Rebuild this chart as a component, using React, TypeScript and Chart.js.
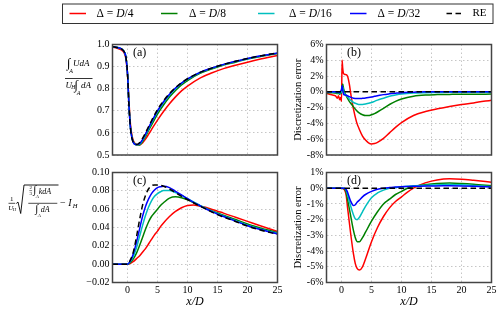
import React, { useEffect, useRef } from 'react';
import { Chart, registerables } from 'chart.js';

Chart.register(...registerables);

// ---------- data ----------
const seriesLabels = ['Δ = D/4', 'Δ = D/8', 'Δ = D/16', 'Δ = D/32', 'RE'];
const seriesColors = ['#ff0000', '#008000', '#00bfbf', '#0000ff', '#000000'];

const xTickValues = [0, 5, 10, 15, 20, 25];
const aYTicks = [0.5, 0.6, 0.7, 0.8, 0.9, 1.0];
const bYTicks = [-8, -6, -4, -2, 0, 2, 4, 6];
const cYTicks = [-0.02, 0, 0.02, 0.04, 0.06, 0.08, 0.1];
const dYTicks = [-6, -5, -4, -3, -2, -1, 0, 1];
const panelLetters = ['(a)', '(b)', '(c)', '(d)'];

// (a) normalised velocity deficit
const aX = [-2.5, -2, -1.5, -1, -0.5, -0.25, 0, 0.25, 0.5, 0.75, 1, 1.25, 1.5, 2, 2.5, 3, 3.5, 4, 5, 6, 7, 8, 9, 10, 12, 14, 16, 18, 20, 22, 25];
const aRed = [0.988, 0.985, 0.981, 0.975, 0.958, 0.932, 0.862, 0.74, 0.637, 0.588, 0.563, 0.552, 0.547, 0.545, 0.555, 0.572, 0.593, 0.615, 0.658, 0.697, 0.732, 0.763, 0.79, 0.812, 0.847, 0.871, 0.891, 0.906, 0.92, 0.933, 0.95];
const aGreen = [0.99, 0.988, 0.985, 0.98, 0.965, 0.94, 0.87, 0.725, 0.625, 0.58, 0.558, 0.55, 0.547, 0.545, 0.561, 0.584, 0.61, 0.635, 0.685, 0.726, 0.762, 0.792, 0.817, 0.837, 0.868, 0.889, 0.907, 0.92, 0.934, 0.945, 0.959];
const aCyan = [0.99, 0.988, 0.985, 0.98, 0.965, 0.94, 0.87, 0.722, 0.622, 0.577, 0.556, 0.548, 0.546, 0.548, 0.566, 0.59, 0.618, 0.645, 0.696, 0.737, 0.772, 0.8, 0.824, 0.842, 0.872, 0.892, 0.909, 0.923, 0.936, 0.947, 0.961];
const aBlue = [0.99, 0.988, 0.985, 0.98, 0.965, 0.94, 0.87, 0.72, 0.62, 0.575, 0.555, 0.548, 0.547, 0.551, 0.57, 0.595, 0.623, 0.65, 0.7, 0.741, 0.775, 0.803, 0.825, 0.844, 0.873, 0.893, 0.91, 0.924, 0.937, 0.948, 0.962];
const aRE = [0.99, 0.988, 0.985, 0.98, 0.965, 0.94, 0.87, 0.72, 0.62, 0.575, 0.555, 0.548, 0.547, 0.555, 0.575, 0.6, 0.628, 0.655, 0.705, 0.745, 0.778, 0.805, 0.827, 0.845, 0.873, 0.893, 0.91, 0.924, 0.937, 0.948, 0.962];

// (b) discretization error of (a), %
const bX = [-2.5, -2, -1.5, -1, -0.7, -0.5, -0.3, -0.15, 0, 0.1, 0.2, 0.35, 0.6, 1, 1.3, 1.6, 2, 2.5, 3, 3.5, 4, 4.5, 5, 5.5, 6, 7, 8, 9, 10, 12, 14, 16, 18, 20, 22, 25];
const bRed = [-0.2, -0.3, -0.4, -0.5, -0.8, -0.5, -1.0, -0.7, -1.2, 4.0, 3.0, 2.3, 2.2, 2.0, 1.0, -0.5, -2.2, -3.8, -4.8, -5.6, -6.1, -6.45, -6.6, -6.55, -6.4, -5.9, -5.2, -4.5, -3.9, -3.0, -2.5, -2.15, -1.85, -1.6, -1.4, -1.05];
const bGreen = [-0.1, -0.1, -0.1, -0.15, -0.2, -0.2, -0.3, -0.2, -0.1, 0.4, 1.0, 0.4, -0.2, -0.8, -1.2, -1.5, -1.9, -2.35, -2.7, -2.9, -3.0, -3.0, -2.9, -2.75, -2.55, -2.1, -1.6, -1.2, -0.9, -0.55, -0.4, -0.35, -0.32, -0.3, -0.3, -0.28];
const bCyan = [-0.05, -0.05, -0.05, -0.05, -0.1, -0.1, -0.15, -0.1, 0, 0.3, 0.6, 0.1, -0.3, -0.6, -0.9, -1.1, -1.35, -1.5, -1.6, -1.6, -1.55, -1.45, -1.35, -1.2, -1.05, -0.8, -0.55, -0.4, -0.28, -0.15, -0.1, -0.08, -0.06, -0.05, -0.05, -0.05];
const bBlue = [0, 0, 0, 0, -0.05, 0, -0.1, 0.1, 0.3, 0.8, 0.3, -0.3, -0.4, -0.5, -0.6, -0.7, -0.8, -0.85, -0.85, -0.82, -0.78, -0.72, -0.65, -0.57, -0.5, -0.35, -0.25, -0.17, -0.1, -0.05, 0, 0, 0, 0, 0, 0];
const reErrX = [-2.5, 25];
const reErr = [0, 0];

// (c) added turbulence intensity
const cX = [-2.5, -1, 0, 0.5, 1, 1.5, 2, 2.5, 3, 3.5, 4, 4.5, 5, 5.5, 6, 7, 8, 9, 10, 11, 12, 13, 14, 15, 16, 18, 20, 22, 25];
const cRed = [0, 0, 0, 0.001, 0.003, 0.006, 0.009, 0.013, 0.017, 0.022, 0.027, 0.032, 0.036, 0.041, 0.045, 0.052, 0.0575, 0.0615, 0.064, 0.0645, 0.0635, 0.062, 0.06, 0.0578, 0.0557, 0.0512, 0.0467, 0.0422, 0.0357];
const cGreen = [0, 0, 0, 0.002, 0.006, 0.012, 0.02, 0.029, 0.038, 0.046, 0.052, 0.056, 0.06, 0.064, 0.067, 0.072, 0.0735, 0.0725, 0.0702, 0.0672, 0.064, 0.061, 0.0583, 0.0558, 0.0533, 0.0487, 0.0438, 0.0398, 0.0343];
const cCyan = [0, 0, 0, 0.003, 0.009, 0.018, 0.03, 0.042, 0.053, 0.062, 0.069, 0.074, 0.077, 0.079, 0.0805, 0.0805, 0.078, 0.075, 0.0715, 0.068, 0.0645, 0.061, 0.058, 0.055, 0.0525, 0.0475, 0.0425, 0.0385, 0.0335];
const cBlue = [0, 0, 0, 0.004, 0.012, 0.024, 0.038, 0.052, 0.063, 0.071, 0.077, 0.081, 0.0835, 0.0845, 0.085, 0.0835, 0.0795, 0.0755, 0.0715, 0.0675, 0.064, 0.0605, 0.0575, 0.0545, 0.052, 0.047, 0.042, 0.038, 0.033];
const cRE = [0, 0, 0, 0.005, 0.014, 0.03, 0.048, 0.064, 0.075, 0.082, 0.0855, 0.0865, 0.0865, 0.086, 0.085, 0.082, 0.078, 0.074, 0.0705, 0.067, 0.0635, 0.0605, 0.057, 0.054, 0.0515, 0.0465, 0.0415, 0.0375, 0.0325];

// (d) discretization error of (c), %
const dX = [-2.5, 0, 0.5, 0.8, 1, 1.5, 2, 2.3, 2.6, 3, 3.5, 4, 5, 6, 7, 8, 9, 10, 11, 12, 13, 15, 17, 18, 20, 22, 25];
const dRed = [0, 0, -0.1, -0.5, -1.2, -2.8, -4.2, -4.8, -5.1, -5.2, -5.0, -4.5, -3.4, -2.5, -1.8, -1.25, -0.85, -0.55, -0.25, 0, 0.2, 0.45, 0.58, 0.6, 0.57, 0.5, 0.38];
const dGreen = [0, 0, -0.05, -0.3, -0.7, -1.7, -2.7, -3.15, -3.4, -3.4, -3.15, -2.8, -2.1, -1.5, -1.0, -0.7, -0.4, -0.2, 0, 0.1, 0.18, 0.27, 0.32, 0.33, 0.3, 0.25, 0.15];
const dCyan = [0, 0, 0, -0.15, -0.4, -1.1, -1.7, -1.95, -2.0, -1.85, -1.5, -1.15, -0.6, -0.3, -0.12, 0, 0.05, 0.1, 0.12, 0.15, 0.17, 0.2, 0.23, 0.24, 0.22, 0.18, 0.1];
const dBlue = [0, 0, 0, -0.1, -0.25, -0.8, -1.1, -1.05, -0.9, -0.75, -0.55, -0.4, -0.2, -0.07, 0, 0.04, 0.07, 0.1, 0.11, 0.12, 0.13, 0.14, 0.15, 0.15, 0.14, 0.12, 0.08];

// ---------- helpers ----------
const SERIF = '"Liberation Serif", "DejaVu Serif", serif';
const W = 500;
const H = 312;

function txt(ctx: CanvasRenderingContext2D, s: string, x: number, y: number, size: number, italic = false, align: CanvasTextAlign = 'left') {
  ctx.font = `${italic ? 'italic ' : ''}${size}px ${SERIF}`;
  ctx.textAlign = align;
  ctx.textBaseline = 'middle';
  ctx.fillText(s, x, y);
}
function hline(ctx: CanvasRenderingContext2D, x0: number, x1: number, y: number, w = 0.8) {
  ctx.beginPath();
  ctx.lineWidth = w;
  ctx.moveTo(x0, y);
  ctx.lineTo(x1, y);
  ctx.stroke();
}

const framePlugin = (letter: string) => ({
  id: 'frame' + letter,
  afterDraw(chart: any) {
    const { ctx, chartArea: a } = chart;
    ctx.save();
    ctx.strokeStyle = '#444';
    ctx.lineWidth = 1.5;
    ctx.setLineDash([]);
    ctx.strokeRect(a.left, a.top, a.right - a.left, a.bottom - a.top);
    ctx.fillStyle = '#000';
    txt(ctx, letter, a.left + 20.5, a.top + 8.5, 12);
    ctx.restore();
  },
});

const legendPlugin = {
  id: 'boxLegend',
  afterDraw(chart: any) {
    const ctx = chart.ctx as CanvasRenderingContext2D;
    const handleX = [69.5, 161, 258, 350, 446.5];
    const textX = [96.5, 189, 289, 377.5, 472.5];
    const y = 13.5;
    ctx.save();
    ctx.strokeStyle = '#333';
    ctx.lineWidth = 1;
    ctx.strokeRect(62.5, 4, 430.5, 19.5);
    const ordered = [...chart.data.datasets].sort((p: any, q: any) => p.legendIndex - q.legendIndex);
    ordered.forEach((ds: any, i: number) => {
      ctx.beginPath();
      ctx.strokeStyle = ds.borderColor;
      ctx.lineWidth = 1.5;
      ctx.setLineDash(ds.borderDash || []);
      ctx.moveTo(handleX[i], y);
      ctx.lineTo(handleX[i] + 16.5, y);
      ctx.stroke();
      ctx.setLineDash([]);
      ctx.fillStyle = '#000';
      const label: string = ds.label;
      const m = label.match(/^(.*?)(D)(\/.*)$/);
      if (m) {
        let x = textX[i];
        ctx.font = `11.5px ${SERIF}`;
        txt(ctx, m[1], x, y, 11.5);
        x += ctx.measureText(m[1]).width;
        ctx.font = `italic 11.5px ${SERIF}`;
        txt(ctx, m[2], x, y, 11.5, true);
        x += ctx.measureText(m[2]).width;
        txt(ctx, m[3], x, y, 11.5);
      } else {
        txt(ctx, label, textX[i], y, 11);
      }
    });
    ctx.restore();
  },
};

const formulaA = {
  id: 'formulaA',
  afterDraw(chart: any) {
    const ctx = chart.ctx as CanvasRenderingContext2D;
    ctx.save();
    ctx.fillStyle = '#000';
    ctx.strokeStyle = '#000';
    // numerator
    txt(ctx, '∫', 67, 63.5, 13);
    txt(ctx, 'A', 69.3, 71, 6, true);
    txt(ctx, 'UdA', 73, 64, 9, true);
    hline(ctx, 65, 92.5, 78.5);
    // denominator
    txt(ctx, 'U', 65.5, 85.5, 9, true);
    txt(ctx, 'H', 71.3, 88, 5.5, true);
    txt(ctx, '∫', 74.5, 86, 13);
    txt(ctx, 'A', 76.8, 93.2, 6, true);
    txt(ctx, 'dA', 81, 86, 9, true);
    ctx.restore();
  },
};

const formulaC = {
  id: 'formulaC',
  afterDraw(chart: any) {
    const ctx = chart.ctx as CanvasRenderingContext2D;
    ctx.save();
    ctx.fillStyle = '#000';
    ctx.strokeStyle = '#000';
    // 1 / U_H
    txt(ctx, '1', 11.7, 199.3, 7, false, 'center');
    hline(ctx, 8.5, 15.2, 203.3, 0.7);
    txt(ctx, 'U', 10.8, 207.8, 7, true, 'center');
    txt(ctx, 'H', 14.3, 209.5, 4.5, true, 'center');
    // radical
    ctx.beginPath();
    ctx.lineWidth = 0.9;
    ctx.moveTo(16.3, 203.5);
    ctx.lineTo(18, 202);
    ctx.lineTo(20.7, 213.5);
    ctx.lineTo(24, 185);
    ctx.lineTo(58.5, 185);
    ctx.stroke();
    // inner numerator
    txt(ctx, '2', 30.7, 188, 5, false, 'center');
    hline(ctx, 29.3, 32.1, 190.6, 0.5);
    txt(ctx, '3', 30.7, 193.3, 5, false, 'center');
    txt(ctx, '∫', 33.3, 190.6, 11);
    txt(ctx, 'A', 35.8, 196.8, 5, true);
    txt(ctx, 'kdA', 38.8, 191.5, 8, true);
    hline(ctx, 28.3, 57.3, 203.3, 0.7);
    // inner denominator
    txt(ctx, '∫', 35.3, 209.5, 11);
    txt(ctx, 'A', 37.8, 215.7, 5, true);
    txt(ctx, 'dA', 40.8, 209.8, 8, true);
    // - I_H
    txt(ctx, '−', 60, 203.6, 10);
    txt(ctx, 'I', 68.3, 203.6, 10, true);
    txt(ctx, 'H', 72.8, 206.3, 6.5, true);
    ctx.restore();
  },
};

type Series = { x: number[]; y: number[] };
type Panel = {
  letter: string;
  series: Series[];
  yMin: number;
  yMax: number;
  yTicks: number[];
  fmt: (v: number) => string;
  area: { l: number; r: number; t: number; b: number };
  bottom: boolean;
  yTitle: string | null;
  extra: any[];
};

const panels: Panel[] = [
  {
    letter: panelLetters[0],
    series: [aRed, aGreen, aCyan, aBlue, aRE].map((y) => ({ x: aX, y })),
    yMin: 0.5, yMax: 1.0, yTicks: aYTicks, fmt: (v) => v.toFixed(1),
    area: { l: 112.5, r: 277.5, t: 44.5, b: 155 }, bottom: false, yTitle: null,
    extra: [legendPlugin, formulaA],
  },
  {
    letter: panelLetters[1],
    series: [
      { x: bX, y: bRed }, { x: bX, y: bGreen }, { x: bX, y: bCyan }, { x: bX, y: bBlue }, { x: reErrX, y: reErr },
    ],
    yMin: -8, yMax: 6, yTicks: bYTicks, fmt: (v) => `${v}%`,
    area: { l: 326.5, r: 491.5, t: 44.5, b: 155 }, bottom: false, yTitle: 'Discretization error',
    extra: [],
  },
  {
    letter: panelLetters[2],
    series: [cRed, cGreen, cCyan, cBlue, cRE].map((y) => ({ x: cX, y })),
    yMin: -0.02, yMax: 0.1, yTicks: cYTicks, fmt: (v) => v.toFixed(2).replace('-', '−'),
    area: { l: 112.5, r: 277.5, t: 172.5, b: 282.5 }, bottom: true, yTitle: null,
    extra: [formulaC],
  },
  {
    letter: panelLetters[3],
    series: [
      { x: dX, y: dRed }, { x: dX, y: dGreen }, { x: dX, y: dCyan }, { x: dX, y: dBlue }, { x: reErrX, y: reErr },
    ],
    yMin: -6, yMax: 1, yTicks: dYTicks, fmt: (v) => `${v}%`,
    area: { l: 326.5, r: 491.5, t: 172.5, b: 282.5 }, bottom: true, yTitle: 'Discretization error',
    extra: [],
  },
];

function makeConfig(p: Panel): any {
  const yW = 35;
  const xH = p.bottom ? 27 : 0;
  const datasets = p.series.map((s, i) => ({
    label: seriesLabels[i],
    legendIndex: i,
    data: s.y.map((y, j) => ({ x: s.x[j], y })),
    borderColor: seriesColors[i],
    backgroundColor: seriesColors[i],
    borderWidth: 1.5,
    borderDash: i === 4 ? [5.5, 3.5] : [],
    pointRadius: 0,
    cubicInterpolationMode: 'monotone',
    fill: false,
    order: 4 - i,
  }));
  const gridOpts = { color: '#b8b8b8', lineWidth: 0.8, drawTicks: false };
  const tickFont = { family: SERIF, size: 10 };
  return {
    type: 'line',
    data: { datasets },
    options: {
      animation: false,
      responsive: false,
      events: [],
      layout: {
        padding: { left: p.area.l - yW, right: W - p.area.r, top: p.area.t, bottom: H - p.area.b - xH },
      },
      plugins: { legend: { display: false }, tooltip: { enabled: false } },
      scales: {
        x: {
          type: 'linear',
          min: -2.5,
          max: 25,
          afterBuildTicks: (s: any) => { s.ticks = xTickValues.map((v) => ({ value: v })); },
          afterFit: (s: any) => { s.height = xH; },
          grid: gridOpts,
          border: { display: false, dash: [1.5, 2.5] },
          ticks: { display: p.bottom, font: tickFont, color: '#000', padding: 2, maxRotation: 0, autoSkip: false, callback: (v: number) => String(v) },
          title: { display: p.bottom, text: 'x/D', font: { family: SERIF, size: 12, style: 'italic' }, color: '#000', padding: { top: 0, bottom: 0 } },
        },
        y: {
          type: 'linear',
          min: p.yMin,
          max: p.yMax,
          afterBuildTicks: (s: any) => { s.ticks = p.yTicks.map((v) => ({ value: v })); },
          afterFit: (s: any) => { s.width = yW; },
          grid: gridOpts,
          border: { display: false, dash: [1.5, 2.5] },
          ticks: { font: tickFont, color: '#000', padding: 3, autoSkip: false, callback: (v: number) => p.fmt(v) },
          title: { display: !!p.yTitle, text: p.yTitle || '', font: { family: SERIF, size: 10.5 }, color: '#000', padding: { top: 0, bottom: 0 } },
        },
      },
    },
    plugins: [framePlugin(p.letter), ...p.extra],
  };
}

export default function App() {
  const r0 = useRef<HTMLCanvasElement>(null);
  const r1 = useRef<HTMLCanvasElement>(null);
  const r2 = useRef<HTMLCanvasElement>(null);
  const r3 = useRef<HTMLCanvasElement>(null);
  const refs = [r0, r1, r2, r3];

  useEffect(() => {
    const charts = panels.map((p, i) => new Chart(refs[i].current as HTMLCanvasElement, makeConfig(p)));
    return () => charts.forEach((c) => c.destroy());
  }, []);

  return (
    <div style={{ position: 'fixed', left: 0, top: 0, width: W, height: H, background: '#fff' }}>
      {refs.map((r, i) => (
        <canvas key={i} ref={r} width={W} height={H} style={{ position: 'absolute', left: 0, top: 0, width: W, height: H }} />
      ))}
    </div>
  );
}
